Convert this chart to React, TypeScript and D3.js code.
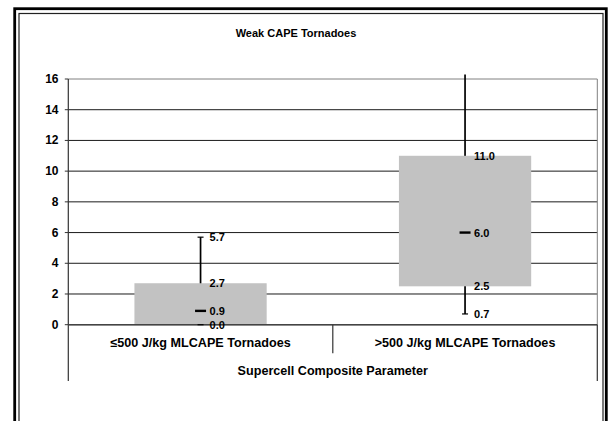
import React from "react";
import * as d3 from "d3";

const title = "Weak CAPE Tornadoes";
const axisTitle = "Supercell Composite Parameter";
const categories = ["≤500 J/kg MLCAPE Tornadoes", ">500 J/kg MLCAPE Tornadoes"];
const highValues = [5.7, 16.3];
const q3Values = [2.7, 11.0];
const medianValues = [0.9, 6.0];
const q1Values = [0.0, 2.5];
const lowValues = [0.0, 0.7];
const yTicks = [0, 2, 4, 6, 8, 10, 12, 14, 16];

const W = 609;
const H = 421;
const FONT = "'Liberation Sans', Arial, sans-serif";

export default function App() {
  const plotL = 68.3;
  const plotR = 597.3;
  const plotT = 79;
  const plotB = 324.7;
  const y = d3.scaleLinear().domain([0, 16]).range([plotB, plotT]);
  const x = d3.scaleBand<string>().domain(categories).range([plotL, plotR]).padding(0);
  const bw = x.bandwidth();
  const barW = bw * 0.5;
  const labelOff = 9;
  const fmt = d3.format(".1f");

  return (
    <svg
      width={W}
      height={H}
      style={{ position: "absolute", left: 0, top: 0, background: "#fff" }}
      fontFamily={FONT}
    >
      <rect x={0} y={0} width={W} height={H} fill="#fff" />
      {/* outer frame */}
      <rect x={14.7} y={8.7} width={606.3 - 14.7} height={H + 20} fill="none" stroke="#000" strokeWidth={2.8} />
      <rect x={19} y={13.5} width={603 - 19} height={H + 20} fill="none" stroke="#222" strokeWidth={1.2} />

      {/* title */}
      <text x={296} y={33} textAnchor="middle" dominantBaseline="central" fontSize={11} fontWeight="bold" fill="#000">
        {title}
      </text>

      {/* gridlines */}
      {yTicks.map((t) => (
        <line
          key={"g" + t}
          x1={plotL}
          x2={plotR}
          y1={y(t)}
          y2={y(t)}
          stroke={t === 16 ? "#808080" : "#1a1a1a"}
          strokeWidth={1}
        />
      ))}
      {/* plot right border */}
      <line x1={plotR} x2={plotR} y1={plotT} y2={plotB} stroke="#808080" strokeWidth={1} />

      {/* y ticks and labels */}
      {yTicks.map((t) => (
        <g key={"t" + t}>
          <line x1={plotL - 3.5} x2={plotL} y1={y(t)} y2={y(t)} stroke="#333" strokeWidth={1} />
          <text
            x={58.5}
            y={y(t)}
            textAnchor="end"
            dominantBaseline="central"
            fontSize={12}
            fontWeight="bold"
            fill="#000"
          >
            {t}
          </text>
        </g>
      ))}

      {/* whiskers */}
      {categories.map((c, i) => {
        const cx = (x(c) as number) + bw / 2;
        return (
          <line
            key={"w" + i}
            x1={cx}
            x2={cx}
            y1={y(lowValues[i])}
            y2={y(highValues[i])}
            stroke="#000"
            strokeWidth={1.7}
          />
        );
      })}

      {/* boxes */}
      {categories.map((c, i) => {
        const cx = (x(c) as number) + bw / 2;
        return (
          <rect
            key={"b" + i}
            x={cx - barW / 2}
            y={y(q3Values[i])}
            width={barW}
            height={y(q1Values[i]) - y(q3Values[i])}
            fill="#c2c2c2"
          />
        );
      })}

      {/* axes */}
      <line x1={plotL} x2={plotL} y1={plotT} y2={381} stroke="#333" strokeWidth={1.2} />
      <line x1={plotL} x2={plotR} y1={plotB} y2={plotB} stroke="#444" strokeWidth={1.6} />
      <line x1={plotR} x2={plotR} y1={plotB} y2={381} stroke="#333" strokeWidth={1.2} />
      <line x1={x(categories[1]) as number} x2={x(categories[1]) as number} y1={plotB} y2={353.3} stroke="#333" strokeWidth={1.2} />

      {/* caps, medians, labels */}
      {categories.map((c, i) => {
        const cx = (x(c) as number) + bw / 2;
        const inRange = (v: number) => v >= 0 && v <= 16;
        const labels: number[] = [];
        if (inRange(highValues[i])) labels.push(highValues[i]);
        labels.push(q3Values[i], medianValues[i]);
        if (q1Values[i] !== lowValues[i]) labels.push(q1Values[i]);
        labels.push(lowValues[i]);
        return (
          <g key={"m" + i}>
            {inRange(highValues[i]) && (
              <line x1={cx - 3} x2={cx + 3} y1={y(highValues[i])} y2={y(highValues[i])} stroke="#000" strokeWidth={1.2} />
            )}
            <line x1={cx - 3} x2={cx + 3} y1={y(lowValues[i])} y2={y(lowValues[i])} stroke="#000" strokeWidth={1.2} />
            <line x1={cx - 5.5} x2={cx + 5.5} y1={y(medianValues[i])} y2={y(medianValues[i])} stroke="#000" strokeWidth={2.4} />
            {labels.map((v, k) => (
              <text
                key={k}
                x={cx + labelOff}
                y={y(v)}
                dominantBaseline="central"
                fontSize={11}
                fontWeight="bold"
                fill="#000"
              >
                {fmt(v)}
              </text>
            ))}
          </g>
        );
      })}

      {/* category labels */}
      {categories.map((c, i) => (
        <text
          key={"c" + i}
          x={(x(c) as number) + bw / 2}
          y={347.3}
          textAnchor="middle"
          fontSize={12.6}
          fontWeight="bold"
          fill="#000"
        >
          {c}
        </text>
      ))}
      <text x={(plotL + plotR) / 2} y={375} textAnchor="middle" fontSize={12.6} fontWeight="bold" fill="#000">
        {axisTitle}
      </text>
    </svg>
  );
}
